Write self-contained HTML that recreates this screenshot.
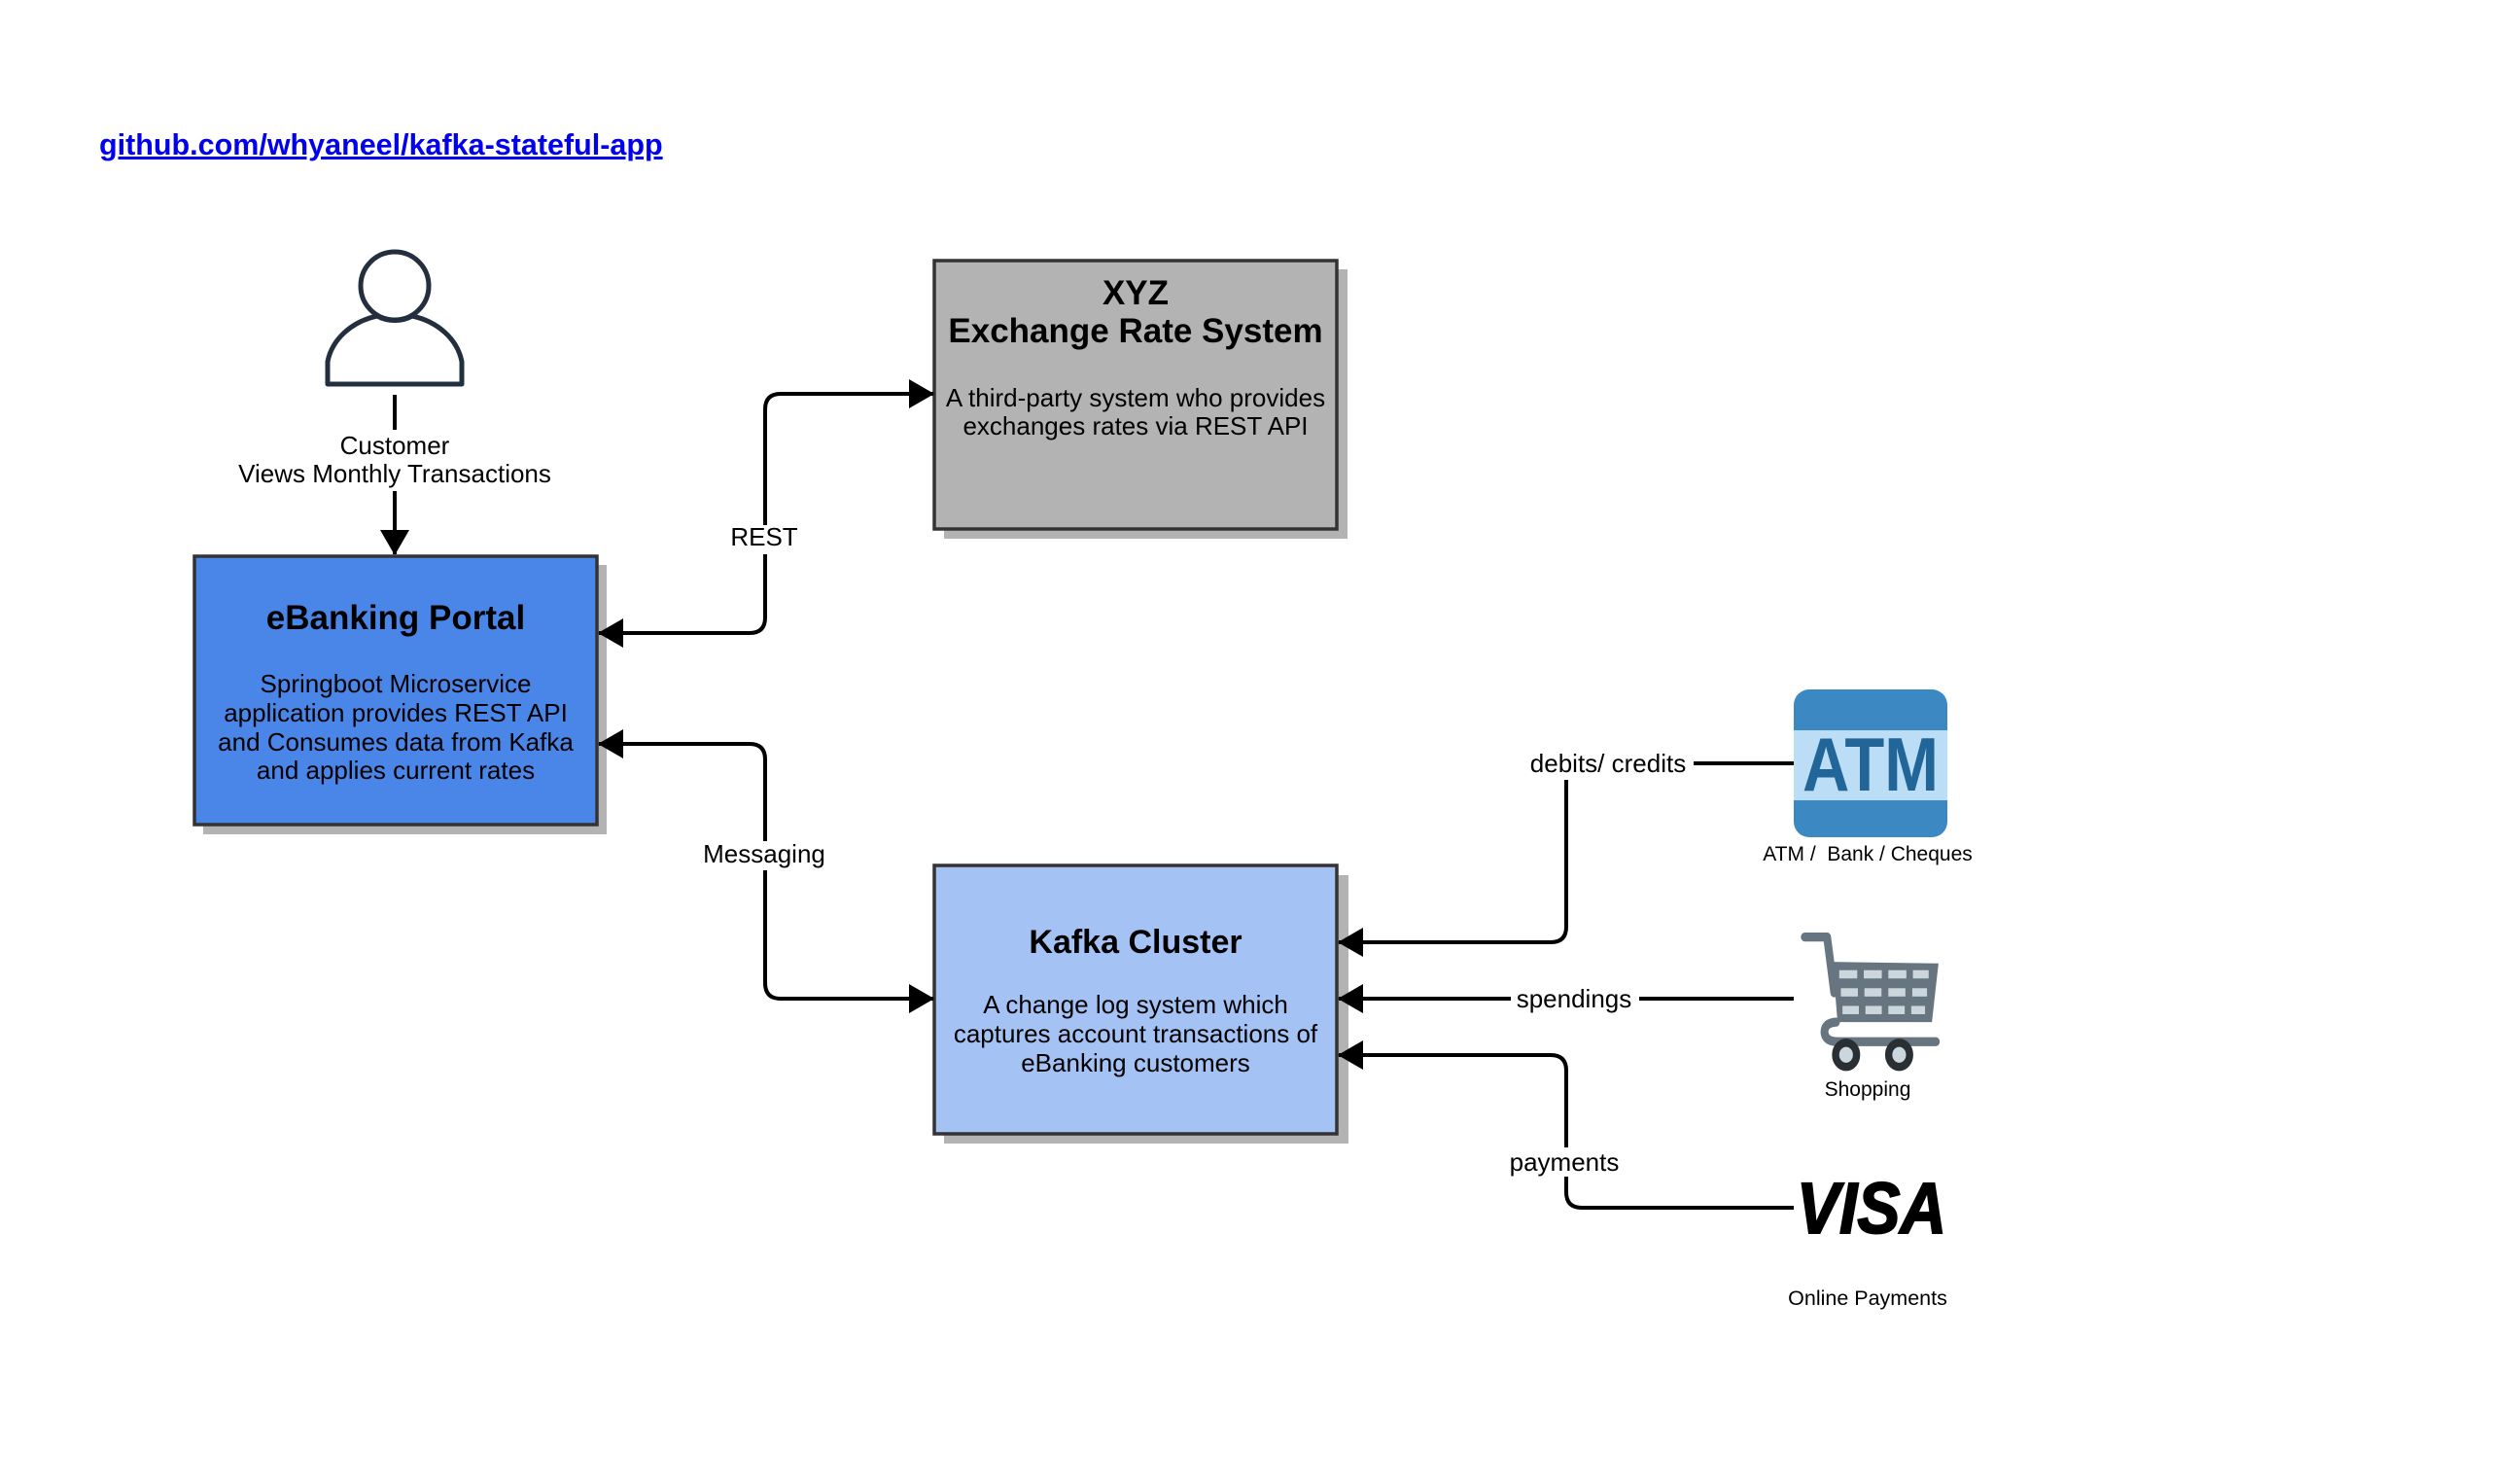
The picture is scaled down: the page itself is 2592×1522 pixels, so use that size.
<!DOCTYPE html>
<html><head><meta charset="utf-8"><style>
html,body{margin:0;padding:0;background:#fff;}
svg{display:block;}
text{font-family:"Liberation Sans",Arial,sans-serif;}
</style></head><body>
<svg width="2592" height="1522" viewBox="0 0 2592 1522" xmlns="http://www.w3.org/2000/svg">
<defs>
<marker id="ah" viewBox="0 0 26 30" refX="25" refY="15" markerWidth="26" markerHeight="30" markerUnits="userSpaceOnUse" orient="auto">
<path d="M0,0 L26,15 L0,30 Z" fill="#000"/>
</marker>
</defs>
<rect width="2592" height="1522" fill="#fff"/>

<!-- link -->
<text x="102" y="159" font-size="30.5" font-weight="bold" fill="#0000ee" text-decoration="underline">github.com/whyaneel/kafka-stateful-app</text>

<!-- person -->
<circle cx="406" cy="294" r="35" fill="#fff" stroke="#232f3e" stroke-width="5"/>
<path d="M337,395 L337,372 A69,58 0 0 1 388,325 A38,38 0 0 0 424,325 A69,58 0 0 1 475,372 L475,395 Z" fill="#fff" stroke="#232f3e" stroke-width="5" stroke-linejoin="round"/>

<line x1="406" y1="406" x2="406" y2="442" stroke="#000" stroke-width="4"/>
<text x="406" y="467" font-size="26" text-anchor="middle">Customer</text>
<text x="406" y="496" font-size="26" text-anchor="middle">Views Monthly Transactions</text>
<line x1="406" y1="505" x2="406" y2="570" stroke="#000" stroke-width="4" marker-end="url(#ah)"/>

<!-- eBanking -->
<rect x="209" y="581" width="415" height="277" fill="#b3b3b3"/>
<rect x="200" y="572" width="414" height="276" fill="#4a86e8" stroke="#333" stroke-width="3.5"/>
<text x="407" y="647" font-size="35" font-weight="bold" text-anchor="middle">eBanking Portal</text>
<text x="407" y="712" font-size="26" text-anchor="middle">Springboot Microservice</text>
<text x="407" y="742" font-size="26" text-anchor="middle">application provides REST API</text>
<text x="407" y="772" font-size="26" text-anchor="middle">and Consumes data from Kafka</text>
<text x="407" y="801" font-size="26" text-anchor="middle">and applies current rates</text>

<!-- XYZ -->
<rect x="971" y="277" width="415" height="277" fill="#b3b3b3"/>
<rect x="961" y="268" width="414" height="276" fill="#b3b3b3" stroke="#333" stroke-width="3.5"/>
<text x="1168" y="313" font-size="35" font-weight="bold" text-anchor="middle">XYZ</text>
<text x="1168" y="352" font-size="35" font-weight="bold" text-anchor="middle">Exchange Rate System</text>
<text x="1168" y="418" font-size="26" text-anchor="middle">A third-party system who provides</text>
<text x="1168" y="447" font-size="26" text-anchor="middle">exchanges rates via REST API</text>

<!-- Kafka -->
<rect x="971" y="900" width="416" height="276" fill="#b3b3b3"/>
<rect x="961" y="890" width="414" height="276" fill="#a4c2f4" stroke="#333" stroke-width="3.5"/>
<text x="1168" y="980" font-size="34" font-weight="bold" text-anchor="middle">Kafka Cluster</text>
<text x="1168" y="1042" font-size="26" text-anchor="middle">A change log system which</text>
<text x="1168" y="1072" font-size="26" text-anchor="middle">captures account transactions of</text>
<text x="1168" y="1102" font-size="26" text-anchor="middle">eBanking customers</text>

<!-- REST connector -->
<path d="M787,540 L787,421 Q787,405 803,405 L960,405" fill="none" stroke="#000" stroke-width="4" marker-end="url(#ah)"/>
<path d="M787,570 L787,635 Q787,651 771,651 L616,651" fill="none" stroke="#000" stroke-width="4" marker-end="url(#ah)"/>
<text x="786" y="561" font-size="26" text-anchor="middle">REST</text>

<!-- Messaging -->
<path d="M787,865 L787,781 Q787,765 771,765 L616,765" fill="none" stroke="#000" stroke-width="4" marker-end="url(#ah)"/>
<path d="M787,895 L787,1011 Q787,1027 803,1027 L960,1027" fill="none" stroke="#000" stroke-width="4" marker-end="url(#ah)"/>
<text x="786" y="887" font-size="26" text-anchor="middle">Messaging</text>

<!-- debits -->
<line x1="1742" y1="785" x2="1845" y2="785" stroke="#000" stroke-width="4"/>
<text x="1654" y="794" font-size="26" text-anchor="middle">debits/ credits</text>
<path d="M1611,802 L1611,953 Q1611,969 1595,969 L1377,969" fill="none" stroke="#000" stroke-width="4" marker-end="url(#ah)"/>

<!-- spendings -->
<line x1="1686" y1="1027" x2="1845" y2="1027" stroke="#000" stroke-width="4"/>
<line x1="1554" y1="1027" x2="1377" y2="1027" stroke="#000" stroke-width="4" marker-end="url(#ah)"/>
<text x="1619" y="1036" font-size="26" text-anchor="middle">spendings</text>

<!-- payments -->
<path d="M1611,1180 L1611,1101 Q1611,1085 1595,1085 L1377,1085" fill="none" stroke="#000" stroke-width="4" marker-end="url(#ah)"/>
<path d="M1611,1210 L1611,1226 Q1611,1242 1627,1242 L1845,1242" fill="none" stroke="#000" stroke-width="4"/>
<text x="1609" y="1204" font-size="26" text-anchor="middle">payments</text>

<!-- ATM icon -->
<rect x="1845" y="709" width="158" height="152" rx="16" fill="#3b88c3"/>
<rect x="1845" y="751" width="158" height="72" fill="#bbddf5"/>
<text x="1924" y="813" font-size="78" font-weight="bold" fill="#226699" text-anchor="middle" textLength="140" lengthAdjust="spacingAndGlyphs">ATM</text>
<text x="1921" y="885" font-size="21" text-anchor="middle" xml:space="preserve">ATM /  Bank / Cheques</text>

<!-- Cart -->
<g transform="translate(1853,959) scale(0.337,0.387)">
<polyline points="10,12 78,12 100,160" fill="none" stroke="#66757f" stroke-width="24" stroke-linecap="round" stroke-linejoin="round"/>
<polygon points="95,78 418,82 398,238 110,238" fill="#66757f"/>
<g fill="#ccd6dd">
<rect x="115" y="100" width="55" height="22"/><rect x="190" y="100" width="55" height="22"/><rect x="265" y="100" width="55" height="22"/><rect x="340" y="100" width="48" height="22"/>
<rect x="120" y="148" width="52" height="22"/><rect x="192" y="148" width="52" height="22"/><rect x="265" y="148" width="52" height="22"/><rect x="338" y="148" width="45" height="22"/>
<rect x="125" y="195" width="50" height="22"/><rect x="195" y="195" width="50" height="22"/><rect x="265" y="195" width="50" height="22"/><rect x="335" y="195" width="42" height="22"/>
</g>
<path d="M105,238 Q70,240 70,265 Q72,290 110,290 L410,290" fill="none" stroke="#66757f" stroke-width="24" stroke-linecap="round"/>
<circle cx="136" cy="325" r="32" fill="#ccd6dd" stroke="#292f33" stroke-width="22"/>
<circle cx="298" cy="325" r="32" fill="#ccd6dd" stroke="#292f33" stroke-width="22"/>
</g>
<text x="1921" y="1127" font-size="21" text-anchor="middle">Shopping</text>

<!-- VISA -->
<text x="1925" y="1268" font-size="74" font-weight="bold" font-style="italic" text-anchor="middle" textLength="154" lengthAdjust="spacingAndGlyphs" fill="#000" stroke="#000" stroke-width="2">VISA</text>
<text x="1921" y="1342" font-size="21.5" text-anchor="middle">Online Payments</text>
</svg>
</body></html>
